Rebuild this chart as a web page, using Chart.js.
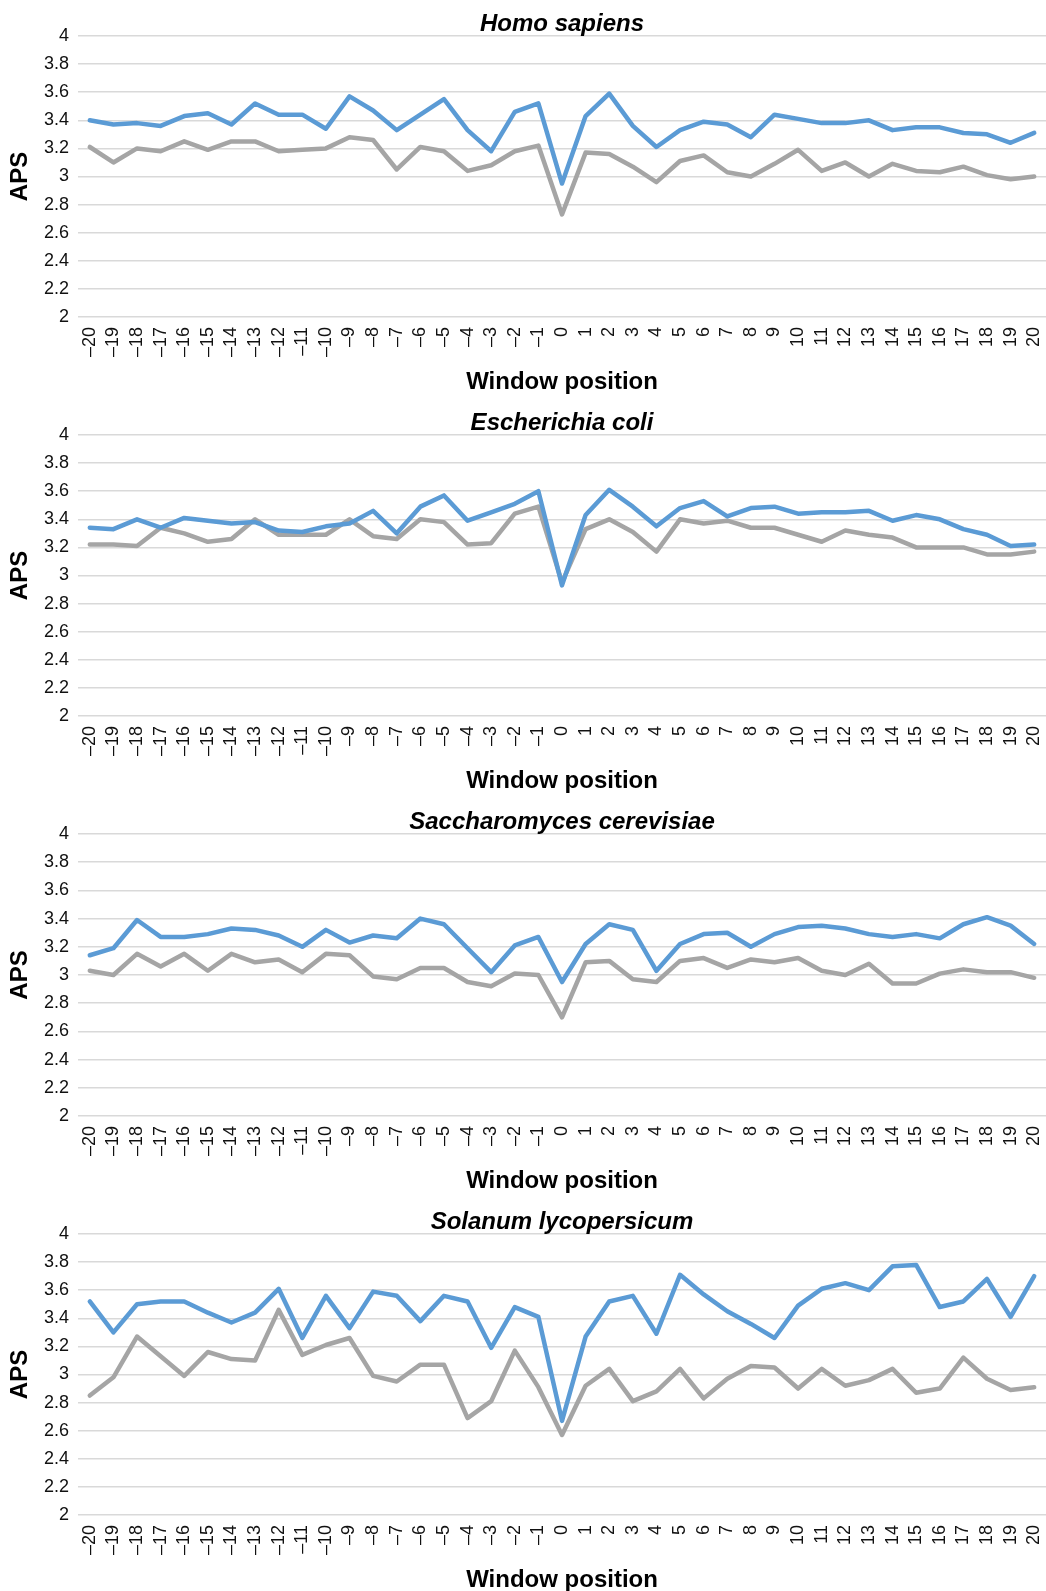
<!DOCTYPE html>
<html>
<head>
<meta charset="utf-8">
<title>APS by window position</title>
<script src="https://cdn.jsdelivr.net/npm/chart.js@4.4.1/dist/chart.umd.min.js"></script>
<style>
  html, body { margin: 0; background: #fff; overflow: hidden; }
  .panel { position: relative; width: 1046px; }
</style>
</head>
<body>
<div class="panel" style="height:399px"><canvas id="chartHomo"></canvas></div>
<div class="panel" style="height:399px"><canvas id="chartEcoli"></canvas></div>
<div class="panel" style="height:400px"><canvas id="chartYeast"></canvas></div>
<div class="panel" style="height:399px"><canvas id="chartTomato"></canvas></div>
<script>
const positions = ['–20', '–19', '–18', '–17', '–16', '–15', '–14', '–13', '–12', '–11',
  '–10', '–9', '–8', '–7', '–6', '–5', '–4', '–3', '–2', '–1', '0',
  '1', '2', '3', '4', '5', '6', '7', '8', '9', '10',
  '11', '12', '13', '14', '15', '16', '17', '18', '19', '20'];
const apsTicks = ['2', '2.2', '2.4', '2.6', '2.8', '3', '3.2', '3.4', '3.6', '3.8', '4'];

// Homo sapiens
const homoBlue = [3.40, 3.37, 3.38, 3.36, 3.43, 3.45, 3.37, 3.52, 3.44, 3.44,
  3.34, 3.57, 3.47, 3.33, 3.44, 3.55, 3.33, 3.18, 3.46, 3.52, 2.95,
  3.43, 3.59, 3.36, 3.21, 3.33, 3.39, 3.37, 3.28, 3.44, 3.41,
  3.38, 3.38, 3.40, 3.33, 3.35, 3.35, 3.31, 3.30, 3.24, 3.31];
const homoGray = [3.21, 3.10, 3.20, 3.18, 3.25, 3.19, 3.25, 3.25, 3.18, 3.19,
  3.20, 3.28, 3.26, 3.05, 3.21, 3.18, 3.04, 3.08, 3.18, 3.22, 2.73,
  3.17, 3.16, 3.07, 2.96, 3.11, 3.15, 3.03, 3.00, 3.09, 3.19,
  3.04, 3.10, 3.00, 3.09, 3.04, 3.03, 3.07, 3.01, 2.98, 3.00];

// Escherichia coli
const ecoliBlue = [3.34, 3.33, 3.40, 3.34, 3.41, 3.39, 3.37, 3.38, 3.32, 3.31,
  3.35, 3.37, 3.46, 3.30, 3.49, 3.57, 3.39, 3.45, 3.51, 3.60, 2.93,
  3.43, 3.61, 3.49, 3.35, 3.48, 3.53, 3.42, 3.48, 3.49, 3.44,
  3.45, 3.45, 3.46, 3.39, 3.43, 3.40, 3.33, 3.29, 3.21, 3.22];
const ecoliGray = [3.22, 3.22, 3.21, 3.34, 3.30, 3.24, 3.26, 3.40, 3.29, 3.29,
  3.29, 3.40, 3.28, 3.26, 3.40, 3.38, 3.22, 3.23, 3.44, 3.49, 2.95,
  3.33, 3.40, 3.31, 3.17, 3.40, 3.37, 3.39, 3.34, 3.34, 3.29,
  3.24, 3.32, 3.29, 3.27, 3.20, 3.20, 3.20, 3.15, 3.15, 3.17];

// Saccharomyces cerevisiae
const yeastBlue = [3.14, 3.19, 3.39, 3.27, 3.27, 3.29, 3.33, 3.32, 3.28, 3.20,
  3.32, 3.23, 3.28, 3.26, 3.40, 3.36, 3.19, 3.02, 3.21, 3.27, 2.95,
  3.22, 3.36, 3.32, 3.03, 3.22, 3.29, 3.30, 3.20, 3.29, 3.34,
  3.35, 3.33, 3.29, 3.27, 3.29, 3.26, 3.36, 3.41, 3.35, 3.22];
const yeastGray = [3.03, 3.00, 3.15, 3.06, 3.15, 3.03, 3.15, 3.09, 3.11, 3.02,
  3.15, 3.14, 2.99, 2.97, 3.05, 3.05, 2.95, 2.92, 3.01, 3.00, 2.70,
  3.09, 3.10, 2.97, 2.95, 3.10, 3.12, 3.05, 3.11, 3.09, 3.12,
  3.03, 3.00, 3.08, 2.94, 2.94, 3.01, 3.04, 3.02, 3.02, 2.98];

// Solanum lycopersicum
const tomatoBlue = [3.52, 3.30, 3.50, 3.52, 3.52, 3.44, 3.37, 3.44, 3.61, 3.26,
  3.56, 3.33, 3.59, 3.56, 3.38, 3.56, 3.52, 3.19, 3.48, 3.41, 2.67,
  3.27, 3.52, 3.56, 3.29, 3.71, 3.57, 3.45, 3.36, 3.26, 3.49,
  3.61, 3.65, 3.60, 3.77, 3.78, 3.48, 3.52, 3.68, 3.41, 3.70];
const tomatoGray = [2.85, 2.98, 3.27, 3.13, 2.99, 3.16, 3.11, 3.10, 3.46, 3.14,
  3.21, 3.26, 2.99, 2.95, 3.07, 3.07, 2.69, 2.81, 3.17, 2.91, 2.57,
  2.92, 3.04, 2.81, 2.88, 3.04, 2.83, 2.97, 3.06, 3.05, 2.90,
  3.04, 2.92, 2.96, 3.04, 2.87, 2.90, 3.12, 2.97, 2.89, 2.91];

const FONT = "'Liberation Sans', Arial, Helvetica, sans-serif";

function makeChart(canvasId, species, blueValues, grayValues) {
  const ctx = document.getElementById(canvasId).getContext('2d');
  const lineStyle = {
    borderWidth: 4.5,
    pointRadius: 0,
    tension: 0,
    borderJoinStyle: 'round',
    borderCapStyle: 'round'
  };
  return new Chart(ctx, {
    type: 'line',
    data: {
      labels: positions,
      datasets: [
        { ...lineStyle, data: blueValues, borderColor: '#5B9BD5' },
        { ...lineStyle, data: grayValues, borderColor: '#A5A5A5' }
      ]
    },
    options: {
      responsive: true,
      maintainAspectRatio: false,
      animation: false,
      layout: { padding: 0 },
      scales: {
        x: {
          offset: true,
          grid: { display: false, drawTicks: false },
          border: { display: false },
          ticks: {
            autoSkip: false,
            minRotation: 90,
            maxRotation: 90,
            padding: 10,
            color: '#111',
            font: { family: FONT, size: 18 }
          },
          title: {
            display: true,
            text: 'Window position',
            color: '#000',
            font: { family: FONT, size: 24, weight: 'bold' },
            padding: { top: 10, bottom: 2 }
          },
          // keep the plot the same size as the original figure
          afterFit: (scale) => {
            scale.height = 82;
            scale.paddingLeft = 0;
            scale.paddingRight = 0;
          }
        },
        y: {
          min: 2,
          max: 4,
          grid: { color: '#D9D9D9', lineWidth: 1.5, drawTicks: false },
          border: { display: false },
          ticks: {
            stepSize: 0.2,
            padding: 9,
            color: '#111',
            font: { family: FONT, size: 18 },
            callback: (value, index) => apsTicks[index]
          },
          title: {
            display: true,
            text: 'APS',
            color: '#000',
            font: { family: FONT, size: 24, weight: 'bold' },
            padding: { top: 6, bottom: 1 }
          },
          afterFit: (scale) => {
            scale.width = 78;
          }
        }
      },
      plugins: {
        legend: { display: false },
        tooltip: { enabled: false },
        title: {
          display: true,
          text: species,
          fullSize: false,
          color: '#000',
          font: { family: FONT, size: 24, weight: 'bold', style: 'italic', lineHeight: 1 },
          padding: { top: 12, bottom: 0 }
        }
      }
    }
  });
}

makeChart('chartHomo', 'Homo sapiens', homoBlue, homoGray);
makeChart('chartEcoli', 'Escherichia coli', ecoliBlue, ecoliGray);
makeChart('chartYeast', 'Saccharomyces cerevisiae', yeastBlue, yeastGray);
makeChart('chartTomato', 'Solanum lycopersicum', tomatoBlue, tomatoGray);
</script>
</body>
</html>
